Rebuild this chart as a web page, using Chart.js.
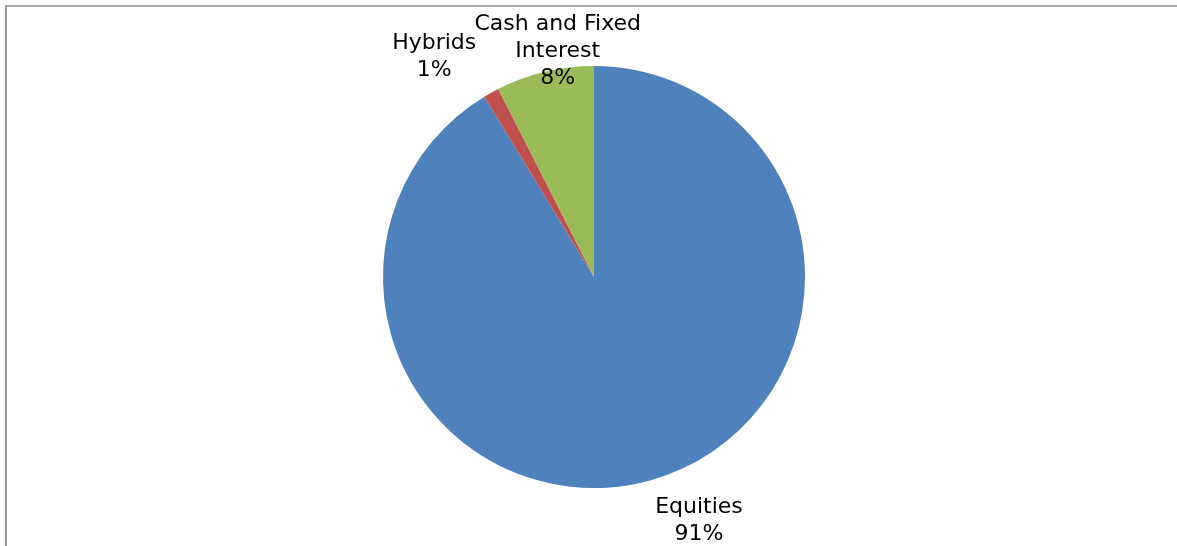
<!DOCTYPE html>
<html>
<head>
<meta charset="utf-8">
<script src="https://cdn.jsdelivr.net/npm/chart.js@4"></script>
<style>
  body { margin: 0; background: #fff; }
  .wrap { position: relative; width: 1177px; height: 546px; }
  .frame { position: absolute; left: 5px; top: 5px; right: 0; bottom: 0;
           border-left: 2px solid #9a9a9a; border-top: 2px solid #a8a8a8; }
  #grafico { position: absolute; left: 0; top: 0; }
</style>
</head>
<body>
<div class="wrap">
  <div class="frame"></div>
  <canvas id="grafico" width="1177" height="546"></canvas>
</div>
<script>
// data (percent of portfolio)
const categorias = [['Equities'], ['Hybrids'], ['Cash and Fixed', 'Interest']];
const valores = [91.3, 1.2, 7.5];
const colores = ['#4F81BD', '#C0504D', '#9BBB59'];

// where each label sits, relative to the outer middle of its slice
const desplazamientos = [{dx: 48, dy: 41}, {dx: -57, dy: -36}, {dx: 13, dy: -21}];

const ctx = document.getElementById('grafico').getContext('2d');

/* labels like excel: name + rounded percent */
const etiquetas = {
  id: 'etiquetas',
  afterDatasetsDraw(chart, args, opts) {
    const c = chart.ctx;
    const meta = chart.getDatasetMeta(0);
    const total = valores.reduce((a, b) => a + b, 0);
    c.save();
    c.font = opts.size + 'px "DejaVu Sans", Verdana, sans-serif';
    c.fillStyle = '#000';
    c.textAlign = 'center';
    c.textBaseline = 'middle';
    meta.data.forEach((arc, i) => {
      const mid = (arc.startAngle + arc.endAngle) / 2;
      const x = arc.x + Math.cos(mid) * arc.outerRadius + desplazamientos[i].dx;
      const y = arc.y + Math.sin(mid) * arc.outerRadius + desplazamientos[i].dy;
      const lineas = categorias[i].concat([Math.round(valores[i] / total * 100) + '%']);
      const alto = opts.lineHeight;
      const y0 = y - (lineas.length - 1) * alto / 2;
      lineas.forEach((t, j) => c.fillText(t, x, y0 + j * alto));
    });
    c.restore();
  }
};

new Chart(ctx, {
  type: 'pie',
  data: {
    labels: categorias.map(l => l.join(' ')),
    datasets: [{
      data: valores,
      backgroundColor: colores,
      borderWidth: 0
    }]
  },
  options: {
    responsive: false,
    animation: false,
    layout: { padding: { left: 11, right: 0, top: 66, bottom: 58 } },
    plugins: {
      legend: { display: false },
      tooltip: { enabled: false },
      etiquetas: { size: 22, lineHeight: 27 }
    }
  },
  plugins: [etiquetas]
});
</script>
</body>
</html>
